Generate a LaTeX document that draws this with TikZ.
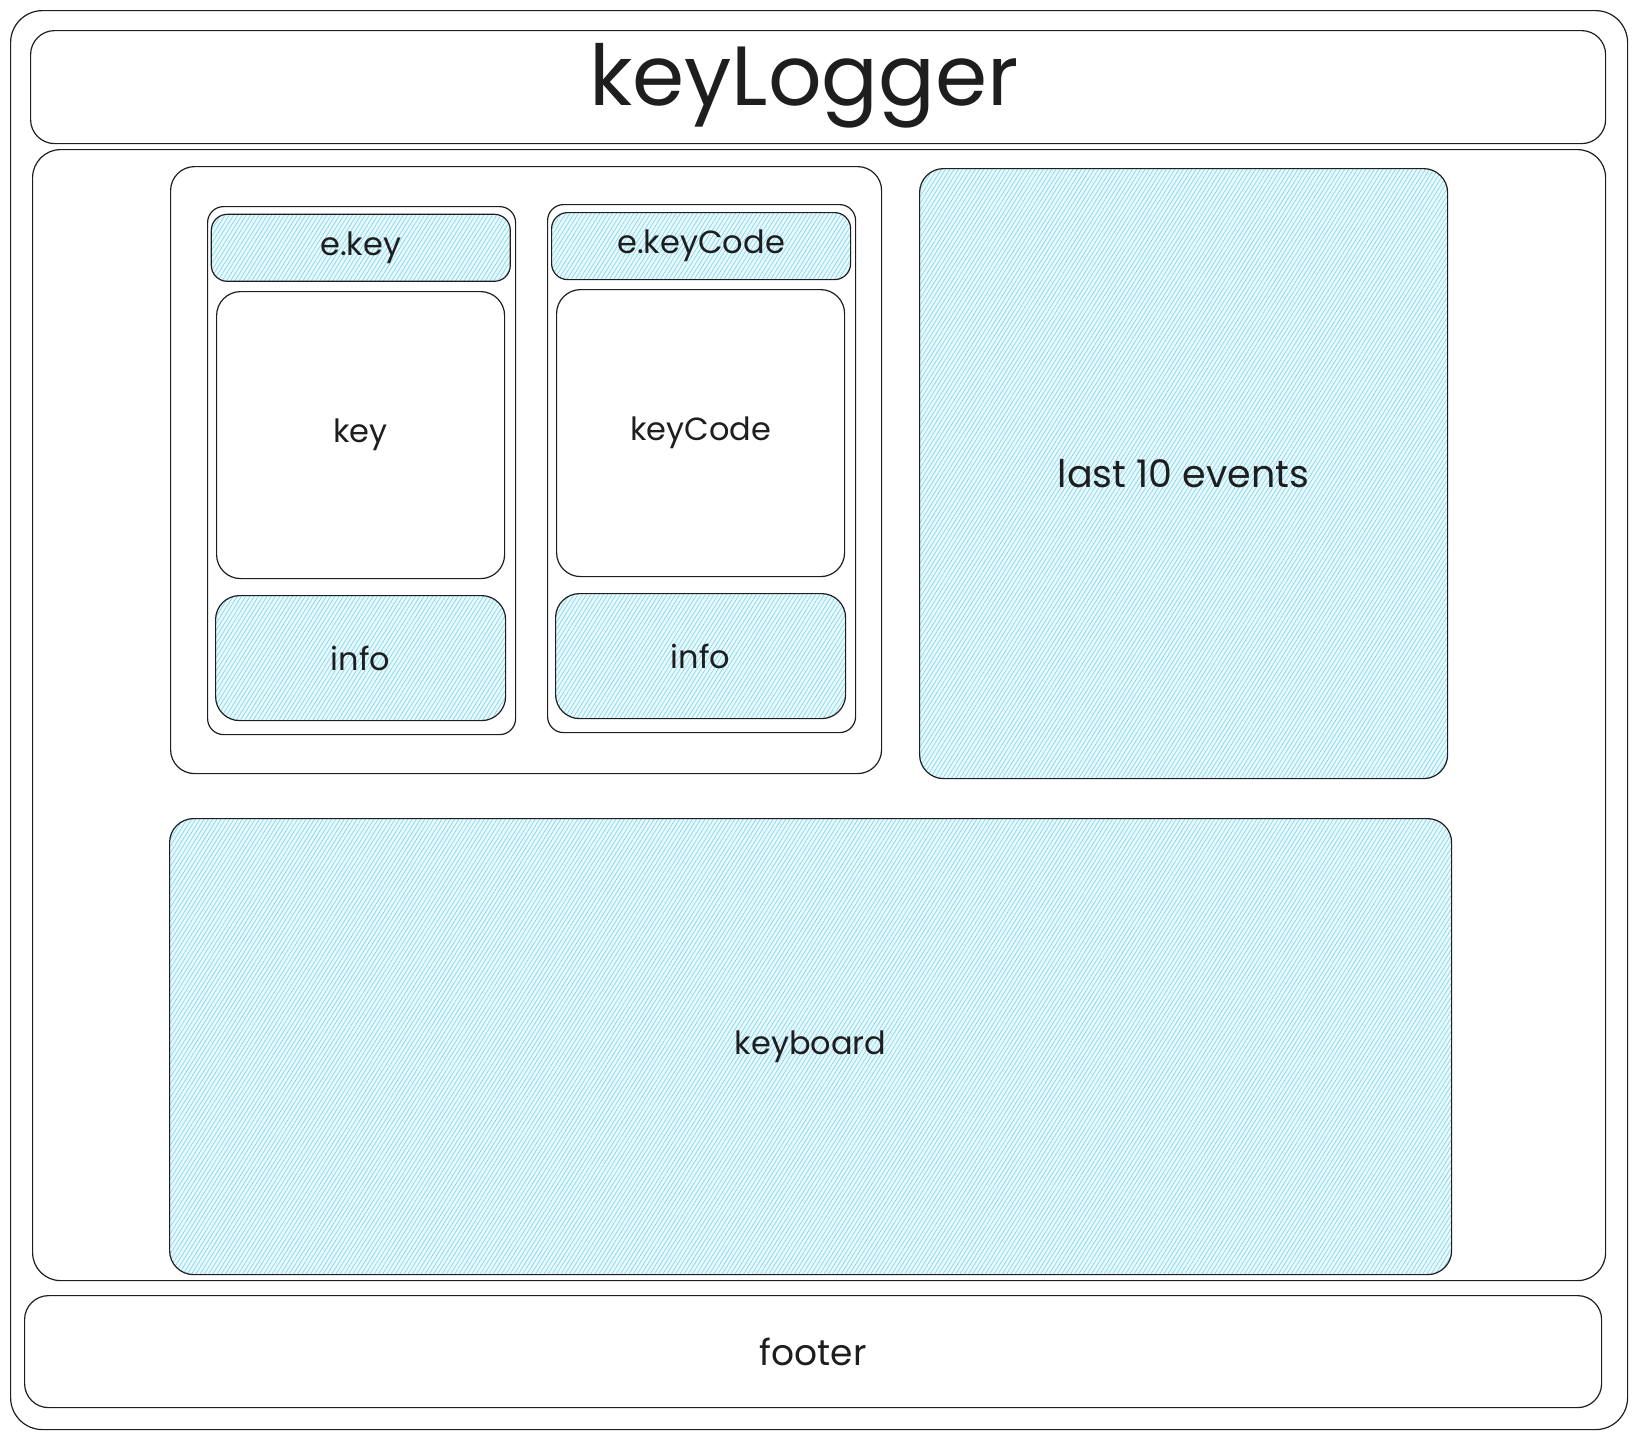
\documentclass[tikz,border=0pt]{standalone}
\usepackage{fontspec}
\setmainfont{Poppins}
\usetikzlibrary{patterns.meta}

\definecolor{ink}{HTML}{1E1E1E}
\definecolor{hatchbg}{RGB}{232,248,252}
\definecolor{hatchline}{RGB}{120,214,236}

\tikzset{
  box/.style={draw=ink,line width=1.2pt,rounded corners=24pt,anchor=north west,
    inner sep=0pt,font=\fontsize{32}{38}\selectfont,text=ink},
  smallbox/.style={box,rounded corners=16pt},
  hatched/.style={preaction={fill=hatchbg},
    pattern={Lines[angle=58,distance=3.6pt,line width=0.6pt]},pattern color=hatchline},
}

\begin{document}
\begin{tikzpicture}[x=1pt,y=-1pt]
  \useasboundingbox (0,0) rectangle (1638,1438);

  % page frame
  \node[box,rounded corners=32pt,minimum width=1617pt,minimum height=1419pt] (frame) at (10,10) {};
  \node[box,minimum width=1575pt,minimum height=113pt] (header) at (30,30) {};
  \node[font=\fontsize{84}{96}\selectfont,text=ink] (title) at (804,86) {keyLogger};
  \node[box,rounded corners=28pt,minimum width=1573pt,minimum height=1131pt] (main) at (32,149) {};
  \node[box,font=\fontsize{36}{42}\selectfont,minimum width=1577pt,minimum height=112pt] (footer) at (24,1295) {footer};

  % key panel
  \node[box,minimum width=711pt,minimum height=607pt] (panel) at (170,166) {};
  \foreach \i/\x/\dy/\head/\body in {A/207/0/e.key/key, B/547/-2/e.keyCode/keyCode} {
    \node[smallbox,minimum width=308pt,minimum height=528pt] (col\i) at (\x,206+\dy) {};
    \node[smallbox,hatched,minimum width=299pt,minimum height=67pt] (head\i) at (\x+4,214+\dy) {\head};
    \node[box,minimum width=288pt,minimum height=287pt] (body\i) at (\x+9,291+\dy) {\body};
    \node[box,hatched,minimum width=290pt,minimum height=125pt] (info\i) at (\x+8,595+\dy) {info};
  }

  % events and keyboard
  \node[box,hatched,font=\fontsize{38}{44}\selectfont,minimum width=528pt,minimum height=610pt] (events) at (919,168) {last 10 events};
  \node[box,hatched,minimum width=1282pt,minimum height=456pt] (keyboard) at (169,818) {keyboard};
\end{tikzpicture}
\end{document}
